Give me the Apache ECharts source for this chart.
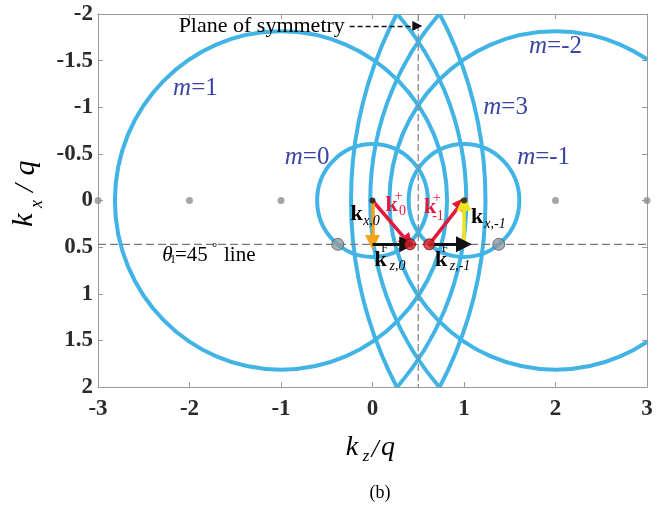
<!DOCTYPE html>
<html>
<head>
<meta charset="utf-8">
<script src="https://cdn.jsdelivr.net/npm/echarts@6/dist/echarts.min.js"></script>
<style>
html,body{margin:0;padding:0;background:#fff;}
#chart{width:669px;height:508px;}
</style>
</head>
<body>
<div id="chart"></div>
<script>
// ---- data ----
const xTicks = [-3, -2, -1, 0, 1, 2, 3];
const yTicks = [-2, -1.5, -1, -0.5, 0, 0.5, 1, 1.5, 2];
const harmonicM = [3, 2, 1, 0, -1, -2, -3, -4];
const circleCenterX = [-3, -2, -1, 0, 1, 2, 3, 4];
const circleRadius = [4.235, 3.025, 1.815, 0.605, 0.605, 1.815, 3.025, 4.235];
const labelText = ['m=1', 'm=0', 'm=-2', 'm=3', 'm=-1'];
const labelX = [-1.96, -0.74, 1.93, 1.43, 1.80];
const labelY = [-1.20, -0.46, -1.65, -1.00, -0.46];
const latticeDotX = [-3, -2, -1, 2, 3];
const thetaLineY = 0.47;
const symmetryX = 0.5;
const grayPointX = [-0.38, 1.38];
const redPointX = [0.41, 0.62];
const originX = [0, 1];
// arrows: [x0, y0, x1, y1]
const arrowKx0 = [0, 0, 0, 0.45];
const arrowK0 = [0, 0, 0.39, 0.45];
const arrowKz0 = [0, 0.47, 0.38, 0.47];
const arrowKm1 = [0.62, 0.47, 0.98, 0.02];
const arrowKxm1 = [1, 0.47, 1, 0.03];
const arrowKzm1 = [0.62, 0.47, 1, 0.47];
const symArrow = [-0.25, -1.87, 0.49, -1.87];
const thetaLabelX = -2.213;

const BLUE = '#41b4e5';
const SERIF = '"Liberation Serif","DejaVu Serif",serif';

const chart = echarts.init(document.getElementById('chart'));

const circleData = circleCenterX.map((c, i) => [c, 0, circleRadius[i], harmonicM[i]]);

function arrowItem(a, color) {
  return { coords: [[a[0], a[1]], [a[2], a[3]]], lineStyle: { color: color } };
}

const axisCommon = {
  axisLine: { show: true, onZero: false, lineStyle: { color: '#9a9a9a', width: 1 } },
  axisTick: { show: true, inside: true, length: 5, lineStyle: { color: '#9a9a9a' } },
  splitLine: { show: false }
};

const option = {
  animation: false,
  backgroundColor: '#fff',
  grid: { left: 98, right: 22, top: 14, bottom: 121, containLabel: false },
  xAxis: [
    Object.assign({
      type: 'value', position: 'bottom', min: xTicks[0], max: xTicks[xTicks.length - 1], interval: 1,
      axisLabel: { color: '#2a2a2a', fontFamily: SERIF, fontWeight: 'bold', fontSize: 23, margin: 11 }
    }, axisCommon),
    Object.assign({
      type: 'value', position: 'top', min: xTicks[0], max: xTicks[xTicks.length - 1], interval: 1,
      axisLabel: { show: false }
    }, axisCommon)
  ],
  yAxis: [
    Object.assign({
      type: 'value', position: 'left', inverse: true, min: yTicks[0], max: yTicks[yTicks.length - 1], interval: 0.5,
      axisLabel: { color: '#2a2a2a', fontFamily: SERIF, fontWeight: 'bold', fontSize: 23, margin: 5 }
    }, axisCommon),
    Object.assign({
      type: 'value', position: 'right', inverse: true, min: yTicks[0], max: yTicks[yTicks.length - 1], interval: 0.5,
      axisLabel: { show: false }
    }, axisCommon)
  ],
  series: [
    {
      type: 'custom',
      clip: true,
      data: circleData,
      encode: { x: 0, y: 1 },
      renderItem: function (params, api) {
        const c = api.coord([api.value(0), api.value(1)]);
        const s = api.size([api.value(2), api.value(2)]);
        return {
          type: 'ellipse',
          shape: { cx: c[0], cy: c[1], rx: Math.abs(s[0]), ry: Math.abs(s[1]) },
          style: { fill: 'none', stroke: BLUE, lineWidth: 4 }
        };
      },
      z: 2
    },
    {
      type: 'line', symbol: 'none', z: 3, silent: true,
      data: [[xTicks[0], thetaLineY], [xTicks[xTicks.length - 1], thetaLineY]],
      lineStyle: { color: '#7a7a7a', width: 1.3, type: [8, 4] }
    },
    {
      type: 'line', symbol: 'none', z: 3, silent: true,
      data: [[symmetryX, yTicks[0]], [symmetryX, yTicks[yTicks.length - 1]]],
      lineStyle: { color: '#8a8a8a', width: 1.3, type: [7, 3] }
    },
    {
      type: 'scatter', clip: false, z: 4, symbolSize: 7,
      data: latticeDotX.map(x => [x, 0]),
      itemStyle: { color: '#8f8f8f' }
    },
    {
      type: 'scatter', z: 4, symbolSize: 12,
      data: grayPointX.map(x => [x, thetaLineY]),
      itemStyle: { color: '#8e9ba3', borderColor: '#4d5a63', borderWidth: 1 }
    },
    {
      type: 'lines', coordinateSystem: 'cartesian2d', z: 5, silent: true,
      symbol: ['none', 'triangle'], symbolSize: 15,
      lineStyle: { width: 3.5, opacity: 1, curveness: 0 },
      data: [
        arrowItem(arrowK0, '#e3193c'),
        arrowItem(arrowKm1, '#e3193c'),
        arrowItem(arrowKx0, '#f5a31a'),
        arrowItem(arrowKxm1, '#f2e51c')
      ]
    },
    {
      type: 'lines', coordinateSystem: 'cartesian2d', z: 5, silent: true,
      symbol: ['none', 'triangle'], symbolSize: 16,
      lineStyle: { width: 3, opacity: 1, curveness: 0 },
      data: [
        arrowItem(arrowKz0, '#111111'),
        arrowItem(arrowKzm1, '#111111')
      ]
    },
    {
      type: 'lines', coordinateSystem: 'cartesian2d', z: 5, silent: true,
      symbol: ['none', 'triangle'], symbolSize: 10,
      lineStyle: { width: 1.3, opacity: 1, type: [5, 3], color: '#111' },
      data: [arrowItem(symArrow, '#111111')]
    },
    {
      type: 'scatter', z: 6, symbolSize: 11,
      data: redPointX.map(x => [x, thetaLineY]),
      itemStyle: { color: '#dc2128', borderColor: '#6a0a0a', borderWidth: 1 }
    },
    {
      type: 'scatter', z: 6, symbolSize: 6,
      data: originX.map(x => [x, 0]),
      itemStyle: { color: '#111' }
    }
  ]
};
chart.setOption(option);

function P(x, y) { return chart.convertToPixel({ xAxisIndex: 0, yAxisIndex: 0 }, [x, y]); }
function T(x, y, text, font, color, align) {
  return {
    type: 'text', x: x, y: y, silent: true, z: 100,
    style: { text: text, font: font, fill: color || '#000', textAlign: align || 'center', textVerticalAlign: 'middle', align: align || 'center', verticalAlign: 'middle' }
  };
}
function group(anchor, children, extra) {
  return Object.assign({ type: 'group', x: anchor[0], y: anchor[1], children: children }, extra || {});
}

const KB = 'bold 22px ' + SERIF;
const SUB = 'italic 14px ' + SERIF;
const SUBR = '14px ' + SERIF;
const RED = '#e3193c';
const graphics = [];

// harmonic labels
labelText.forEach((t, i) => {
  const p = P(labelX[i], labelY[i]);
  const parts = t.split('=');
  graphics.push(group(p, [
    T(-2, 0, parts[0], 'italic 25px ' + SERIF, '#3a44a6', 'right'),
    T(-2, 0, '=' + parts[1], '25px ' + SERIF, '#3a44a6', 'left')
  ]));
});

// vector labels anchored to origin (0,0)
const o0 = P(0, 0);
graphics.push(group(o0, [
  T(-16, 14, 'k', KB), T(-1, 21, 'x,0', SUB)
]));
graphics.push(group(o0, [
  T(19, 5, 'k', KB, RED), T(26, -4, '+', SUBR, RED), T(30, 11, '0', SUBR, RED)
]));
const o1 = P(1, 0);
graphics.push(group(o1, [
  T(-34, 7, 'k', KB, RED), T(-27, -2, '+', SUBR, RED), T(-26, 16, '-1', SUBR, RED)
]));
graphics.push(group(o1, [
  T(13, 17, 'k', KB), T(31, 24, 'x,-1', SUB)
]));
graphics.push(group(o0, [
  T(8, 60, 'k', KB), T(12, 48, 'F', '12px ' + SERIF), T(25, 66, 'z,0', SUB)
]));
graphics.push(group(o1, [
  T(-23, 60, 'k', KB), T(-19, 48, 'F', '12px ' + SERIF), T(-4, 66, 'z,-1', SUB)
]));

// theta line label
const th = P(thetaLabelX, thetaLineY);
graphics.push(group([th[0], th[1]], [
  T(-2.5, 11, 'θ', 'italic 21px ' + SERIF, '#000', 'center'),
  T(3, 16, '1', '12px ' + SERIF, '#000', 'center'),
  T(5, 11, '=45', '21px ' + SERIF, '#000', 'left'),
  T(42, 3, '°', '13px ' + SERIF, '#000', 'left'),
  T(54, 11, 'line', '21px ' + SERIF, '#000', 'left')
]));

// plane of symmetry label
const ps = P(symArrow[0], symArrow[1]);
graphics.push(T(ps[0] - 171, ps[1], 'Plane of symmetry', '22px ' + SERIF, '#000', 'left'));

// axis titles
graphics.push(group([370, 450], [
  T(-18, -2, 'k', 'italic 28px ' + SERIF), T(-4, 7, 'z', 'italic 17px ' + SERIF),
  T(5, 0, '/', 'italic 26px ' + SERIF), T(18, -2, 'q', 'italic 28px ' + SERIF)
]));
graphics.push(group([28, 194], [
  T(-26, -4, 'k', 'italic 30px ' + SERIF), T(-10, 9, 'x', 'italic 18px ' + SERIF),
  T(6, -2, '/', 'italic 28px ' + SERIF), T(26, -2, 'q', 'italic 30px ' + SERIF)
], { rotation: Math.PI / 2 }));
graphics.push(T(380, 493, '(b)', '18px ' + SERIF, '#000', 'center'));

chart.setOption({ graphic: graphics });
</script>
</body>
</html>
